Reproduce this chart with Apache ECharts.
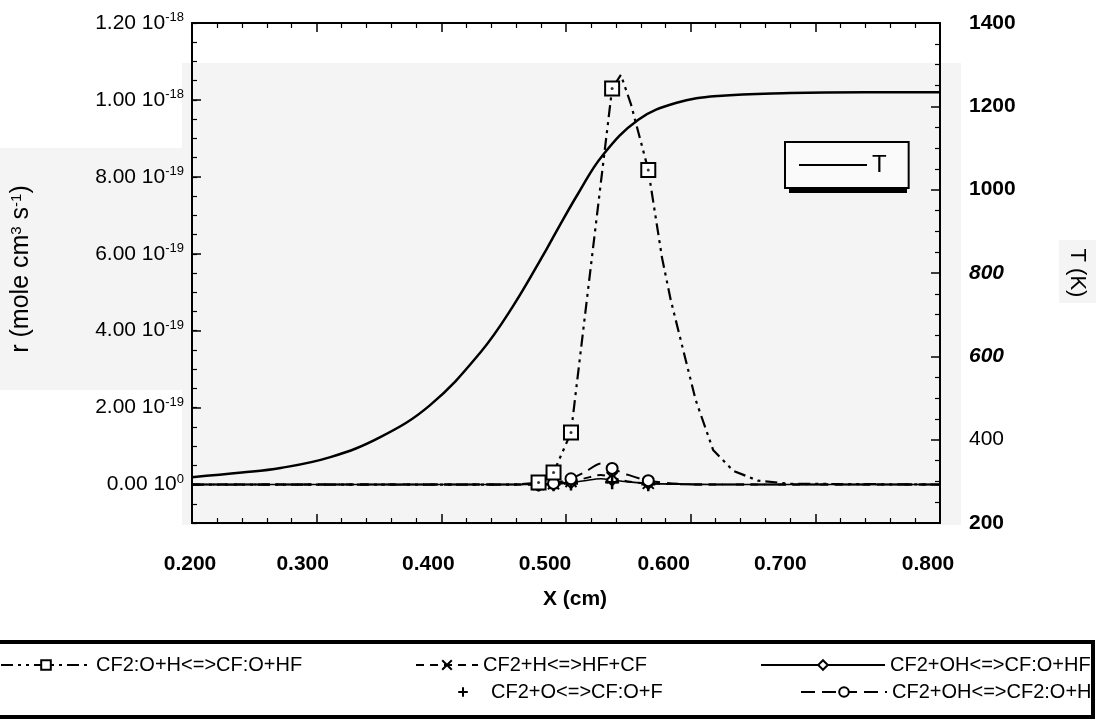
<!DOCTYPE html>
<html>
<head>
<meta charset="utf-8">
<script src="https://cdn.jsdelivr.net/npm/echarts@6/dist/echarts.min.js"></script>
<style>
  html, body { margin: 0; padding: 0; background: #fff; }
  #chart { width: 1096px; height: 720px; }
</style>
</head>
<body>
<div id="chart"></div>
<script>
// temperature profile (right axis, K)
const xT = [0.200, 0.240, 0.271, 0.311, 0.351, 0.391, 0.431, 0.457, 0.484, 0.494, 0.510, 0.529, 0.558, 0.588, 0.622, 0.680, 0.740, 0.800]
const tempK = [310, 321, 332, 358, 406, 483, 608, 718, 855, 909, 992, 1081, 1168, 1208, 1225, 1232, 1234, 1234]

// reaction rates, in units of 1e-19 mole cm-3 s-1
const xMain = [0.200, 0.400, 0.460, 0.478, 0.490, 0.504, 0.537, 0.544, 0.552, 0.566, 0.577, 0.584, 0.604, 0.618, 0.634, 0.654, 0.680, 0.800]
const rateCF2O_H = [0, 0, 0, 0.05, 0.31, 1.35, 10.3, 10.65, 9.9, 8.18, 5.9, 4.8, 2.2, 0.9, 0.36, 0.1, 0.02, 0]

const xMinor = [0.200, 0.460, 0.478, 0.490, 0.504, 0.515, 0.528, 0.537, 0.550, 0.566, 0.590, 0.620, 0.800]
const rateCF2_H = [0, 0, 0, 0.02, 0.08, 0.16, 0.25, 0.18, 0.08, 0.03, 0.01, 0, 0]
const rateCF2_O = [0, 0, 0, 0.01, 0.03, 0.05, 0.07, 0.06, 0.03, 0.01, 0, 0, 0]
const rateCF2OH_CFO = [0, 0, 0, 0.01, 0.05, 0.1, 0.15, 0.12, 0.07, 0.03, 0.01, 0, 0]
const rateCF2OH_CF2O = [0, 0, 0, 0.03, 0.15, 0.32, 0.55, 0.42, 0.25, 0.1, 0.02, 0, 0]

// x positions where the plotting program put markers
const markerX = [0.478, 0.490, 0.504, 0.537, 0.566]

const rTicks = [0, 2, 4, 6, 8, 10, 12]

const font = "'Liberation Sans', Arial, Helvetica, sans-serif"

// the scanned x labels sit a little left of their ticks
const xLabelShift = { '0.200': 4, '0.300': 28, '0.400': 26, '0.500': 42, '0.600': 54, '0.700': 70, '0.800': 24 }

const pts = (xs, ys) => xs.map((x, i) => markerX.includes(x) ? [x, ys[i]] : { value: [x, ys[i]], symbol: 'none' })

const names = {
  a: 'CF2:O+H<=>CF:O+HF',
  b: 'CF2+H<=>HF+CF',
  c: 'CF2+OH<=>CF:O+HF',
  d: 'CF2+O<=>CF:O+F',
  e: 'CF2+OH<=>CF2:O+H',
}

const chart = echarts.init(document.getElementById('chart'), null, { renderer: 'canvas' })

const legendText = { fontFamily: font, fontSize: 20, color: '#000' }
const rowLegend = (name, left, top, itemWidth) => ({
  data: [name], left, top, itemWidth, itemHeight: 12, itemGap: 0, padding: 0,
  selectedMode: false, textStyle: legendText,
})

const rightStyle = { 1400: 'b', 1200: 'b', 1000: 'b', 800: 'i', 600: 'i', 400: 'n', 200: 'b' }

const xLabelRich = {}
Object.keys(xLabelShift).forEach((k, i) => {
  xLabelRich['x' + i] = { fontFamily: font, fontSize: 21, fontWeight: 'bold', color: '#000', padding: [0, xLabelShift[k], 0, 0] }
})

chart.setOption({
  animation: false,
  backgroundColor: '#fff',
  grid: { left: 192, right: 153, top: 23, bottom: 197 },
  graphic: [
    // scanned-page grey patches
    { type: 'rect', z: -1, shape: { x: 182, y: 63, width: 779, height: 462 }, style: { fill: '#f4f4f4' } },
    { type: 'rect', z: -1, shape: { x: 0, y: 148, width: 182, height: 242 }, style: { fill: '#f4f4f4' } },
    { type: 'rect', z: -1, shape: { x: 1059, y: 240, width: 41, height: 63 }, style: { fill: '#f4f4f4' } },
    // T legend shadow
    { type: 'rect', z: 1, shape: { x: 789, y: 146, width: 118, height: 47 }, style: { fill: '#000' } },
    // bottom legend frame
    { type: 'rect', z: 1, shape: { x: -4, y: 642, width: 1097, height: 75 }, style: { fill: '#fff', stroke: '#000', lineWidth: 4 } },
  ],
  legend: [
    {
      data: [{ name: 'T', icon: 'rect' }], left: 785, top: 142, itemWidth: 68, itemHeight: 2, itemGap: 0, padding: [11, 22, 11, 14],
      backgroundColor: '#fafafa', borderColor: '#000', borderWidth: 2, selectedMode: false,
      textStyle: { fontFamily: font, fontSize: 24, color: '#000', lineHeight: 24 },
    },
    rowLegend(names.a, 0, 655, 90),
    rowLegend(names.b, 415, 655, 62),
    rowLegend(names.c, 760, 655, 124),
    rowLegend(names.d, 440, 682, 46),
    rowLegend(names.e, 800, 682, 86),
  ],
  xAxis: [
    {
      type: 'value', min: 0.2, max: 0.8, interval: 0.1,
      name: 'X (cm)', nameLocation: 'middle', nameGap: 66,
      nameTextStyle: { fontFamily: font, fontSize: 21, fontWeight: 'bold', color: '#000', padding: [0, 0, 0, 18] },
      axisLine: { onZero: false, lineStyle: { color: '#000', width: 2 } },
      axisTick: { inside: true, length: 9, lineStyle: { color: '#000', width: 1.5 } },
      minorTick: { show: true, splitNumber: 5, length: 5, lineStyle: { color: '#000', width: 1.2 } },
      splitLine: { show: false },
      axisLabel: {
        margin: 31,
        formatter: v => {
          const t = v.toFixed(3)
          return '{x' + Object.keys(xLabelShift).indexOf(t) + '|' + t + '}'
        },
        rich: xLabelRich,
      },
    },
    {
      type: 'value', position: 'top', min: 0.2, max: 0.8, interval: 0.1,
      axisLine: { onZero: false, lineStyle: { color: '#000', width: 2 } },
      axisTick: { inside: true, length: 9, lineStyle: { color: '#000', width: 1.5 } },
      minorTick: { show: true, splitNumber: 5, length: 5, lineStyle: { color: '#000', width: 1.2 } },
      splitLine: { show: false },
      axisLabel: { show: false },
    },
  ],
  yAxis: [
    {
      type: 'value', min: -1, max: 12, interval: 0.5, position: 'left',
      name: 'r (mole cm{s|3} s{s|-1})', nameLocation: 'middle', nameGap: 158,
      nameTextStyle: {
        fontFamily: font, fontSize: 25, color: '#000', padding: [0, 0, 0, 8],
        rich: { s: { fontFamily: font, fontSize: 15, color: '#000', verticalAlign: 'top', lineHeight: 14 } },
      },
      axisLine: { onZero: false, lineStyle: { color: '#000', width: 2 } },
      axisTick: { inside: true, length: 5, lineStyle: { color: '#000', width: 1.2 } },
      splitLine: { show: false },
      axisLabel: {
        margin: 8, color: '#000',
        formatter: v => {
          if (!rTicks.includes(v)) return ''
          if (v === 0) return '{n|0.00 10}{s|0}'
          if (v >= 10) return '{n|' + (v / 10).toFixed(2) + ' 10}{s|-18}'
          return '{n|' + v.toFixed(2) + ' 10}{s|-19}'
        },
        rich: {
          n: { fontFamily: font, fontSize: 21, color: '#000', lineHeight: 24 },
          s: { fontFamily: font, fontSize: 13, color: '#000', lineHeight: 13, verticalAlign: 'top' },
        },
      },
    },
    {
      type: 'value', min: 200, max: 1400, interval: 200, position: 'right',
      name: 'T (K)', nameLocation: 'middle', nameGap: 126, nameRotate: -90,
      nameTextStyle: { fontFamily: font, fontSize: 22, color: '#000' },
      axisLine: { onZero: false, lineStyle: { color: '#000', width: 2 } },
      axisTick: { inside: true, length: 9, lineStyle: { color: '#000', width: 1.5 } },
      minorTick: { show: true, splitNumber: 4, length: 5, lineStyle: { color: '#000', width: 1.2 } },
      splitLine: { show: false },
      axisLabel: {
        margin: 29, color: '#000',
        formatter: v => '{' + rightStyle[v] + '|' + v + '}',
        rich: {
          b: { fontFamily: font, fontSize: 21, fontWeight: 'bold', color: '#000' },
          i: { fontFamily: font, fontSize: 21, fontWeight: 'bold', fontStyle: 'italic', color: '#000' },
          n: { fontFamily: font, fontSize: 21, color: '#000' },
        },
      },
    },
    {
      // longer ticks at the labelled rate values
      type: 'value', min: -1, max: 12, position: 'left',
      axisLine: { show: false, onZero: false },
      axisTick: { inside: true, length: 9, customValues: rTicks, lineStyle: { color: '#000', width: 1.5 } },
      axisLabel: { show: false },
      splitLine: { show: false },
    },
  ],
  series: [
    {
      name: 'T', type: 'line', xAxisIndex: 0, yAxisIndex: 1, smooth: 0.4, symbol: 'none', z: 3,
      data: xT.map((x, i) => [x, tempK[i]]),
      lineStyle: { color: '#000', width: 2.5 },
      itemStyle: { color: '#000' },
    },
    {
      name: names.a, type: 'line', symbol: 'emptyRect', symbolSize: 14, showAllSymbol: true, z: 4,
      data: pts(xMain, rateCF2O_H),
      lineStyle: { color: '#000', width: 2.2, type: [12, 5, 3, 5, 3, 5] },
      itemStyle: { color: '#000' },
    },
    {
      name: 'dots', type: 'scatter', symbol: 'circle', symbolSize: 3, z: 5,
      data: markerX.map(x => [x, rateCF2O_H[xMain.indexOf(x)]]),
      itemStyle: { color: '#000' },
    },
    {
      name: names.b, type: 'line', symbol: 'path://M0,0L10,10M10,0L0,10', symbolSize: 11, showAllSymbol: true, smooth: 0.3,
      data: pts(xMinor, rateCF2_H),
      lineStyle: { color: '#000', width: 2, type: [8, 6] },
      itemStyle: { color: '#000', borderColor: '#000', borderWidth: 2 },
    },
    {
      name: names.c, type: 'line', symbol: 'emptyDiamond', symbolSize: 11, showAllSymbol: true, smooth: 0.3,
      data: pts(xMinor, rateCF2OH_CFO),
      lineStyle: { color: '#000', width: 1.6 },
      itemStyle: { color: '#000' },
    },
    {
      name: names.d, type: 'line', symbol: 'path://M5,0L5,10M0,5L10,5', symbolSize: 14, showAllSymbol: true,
      data: pts(xMinor, rateCF2_O),
      lineStyle: { color: '#000', width: 0, opacity: 0 },
      itemStyle: { color: '#000', borderColor: '#000', borderWidth: 2.5 },
    },
    {
      name: names.e, type: 'line', symbol: 'emptyCircle', symbolSize: 11, showAllSymbol: true, smooth: 0.3,
      data: pts(xMinor, rateCF2OH_CF2O),
      lineStyle: { color: '#000', width: 2, type: [14, 7] },
      itemStyle: { color: '#000' },
    },
  ],
})
</script>
</body>
</html>
